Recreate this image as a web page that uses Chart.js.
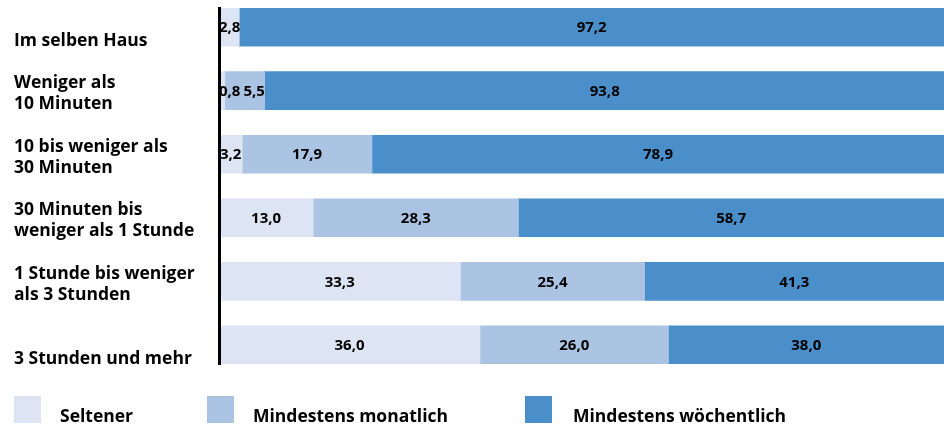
<!DOCTYPE html>
<html><head><meta charset="utf-8">
<script src="https://cdn.jsdelivr.net/npm/chart.js@4/dist/chart.umd.min.js"></script>
<style>html,body{margin:0;padding:0;background:#fff}#wrap{width:944px;height:428px;position:relative}</style>
</head><body><div id="wrap"><canvas id="c"></canvas></div>
<script>
// ---- data ----
const categories = [
  ['', 'Im selben Haus'],
  ['Weniger als', '10 Minuten'],
  ['10 bis weniger als', '30 Minuten'],
  ['30 Minuten bis', 'weniger als 1 Stunde'],
  ['1 Stunde bis weniger', 'als 3 Stunden'],
  ['', '3 Stunden und mehr']
];
const seriesNames = ['Seltener', 'Mindestens monatlich', 'Mindestens wöchentlich'];
const seltener = [2.8, 0.8, 3.2, 13.0, 33.3, 36.0];
const monatlich = [null, 5.5, 17.9, 28.3, 25.4, 26.0];
const woechentlich = [97.2, 93.8, 78.9, 58.7, 41.3, 38.0];

const colors = ['#dde4f4', '#abc4e4', '#4a8fc9'];
const FONT = 'Open Sans';

const seriesValues = [seltener, monatlich, woechentlich];
const datasets = seriesValues.map((vals, k) => ({
  label: seriesNames[k],
  data: vals.map((v, i) => ({ x: v, y: i })),
  backgroundColor: colors[k],
  borderWidth: 0,
  barThickness: 38
}));

const fmt = v => v.toFixed(1).replace('.', ',');

const valueLabels = {
  id: 'valueLabels',
  afterDatasetsDraw(chart) {
    const ctx = chart.ctx;
    ctx.save();
    ctx.font = `bold 15px "${FONT}"`;
    ctx.fillStyle = '#000';
    ctx.textBaseline = 'middle';
    ctx.textAlign = 'left';
    const nRows = categories.length;
    for (let i = 0; i < nRows; i++) {
      let prevRight = -Infinity;
      chart.data.datasets.forEach((ds, k) => {
        const v = seriesValues[k][i];
        if (v === null || v === undefined) return;
        const el = chart.getDatasetMeta(k).data[i];
        const left = Math.min(el.x, el.base), right = Math.max(el.x, el.base);
        const txt = fmt(v);
        const w = ctx.measureText(txt).width;
        let x = (left + right) / 2 - w / 2;
        if (w > right - left) x = left;
        if (x < prevRight + 3) x = prevRight + 3;
        ctx.fillText(txt, x, el.y + 1);
        prevRight = x + w;
      });
    }
    ctx.restore();
  }
};

const customLegend = {
  id: 'customLegend',
  afterDraw(chart, args, opts) {
    const ctx = chart.ctx;
    ctx.save();
    ctx.font = `bold 17.5px "${FONT}"`;
    ctx.textBaseline = 'alphabetic';
    ctx.textAlign = 'left';
    chart.data.datasets.forEach((ds, k) => {
      const bx = opts.boxX[k];
      ctx.fillStyle = ds.backgroundColor;
      ctx.fillRect(bx, opts.boxY, opts.boxSize, opts.boxSize);
      ctx.fillStyle = '#000';
      ctx.fillText(ds.label, opts.textX[k], opts.baseline);
    });
    ctx.restore();
  }
};

new Chart(document.getElementById('c'), {
  type: 'bar',
  data: { datasets },
  plugins: [valueLabels, customLegend],
  options: {
    indexAxis: 'y',
    responsive: true,
    maintainAspectRatio: false,
    animation: false,
    layout: { padding: { left: 14, top: 8, right: 0, bottom: 64 } },
    plugins: {
      legend: { display: false },
      tooltip: { enabled: false },
      customLegend: { boxX: [14, 207, 525], textX: [60, 253, 573], boxY: 396, boxSize: 27, baseline: 422 }
    },
    scales: {
      x: { type: 'linear', min: 0, max: 100, stacked: true, display: false },
      y: {
        type: 'linear', reverse: true, min: -0.3, max: 5.3, stacked: true, offset: false,
        afterBuildTicks: s => { s.ticks = categories.map((_, i) => ({ value: i })); },
        afterFit: s => { s.width = 205; s.paddingTop = 0; s.paddingBottom = 0; },
        grid: { display: false, drawTicks: false, offset: false },
        border: { display: true, color: '#000', width: 3, z: 1 },
        ticks: {
          autoSkip: false, crossAlign: 'far', padding: 0, labelOffset: 3, color: '#000',
          font: { family: FONT, weight: 'bold', size: 17.5, lineHeight: 1.22 },
          callback: v => categories[v]
        }
      }
    }
  }
});
</script>
</body></html>
